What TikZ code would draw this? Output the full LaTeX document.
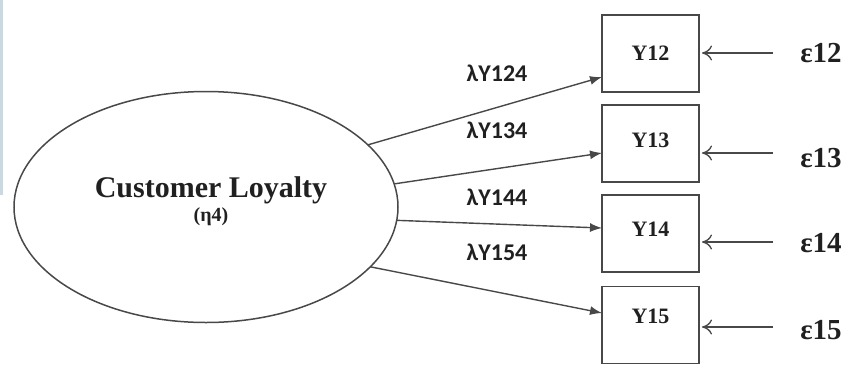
\documentclass[tikz,border=0pt]{standalone}
\usepackage{fontspec}
\setmainfont{Liberation Serif}
\newfontfamily\lamfont{Carlito}
\usetikzlibrary{shapes.geometric,arrows.meta,calc}
\definecolor{ln}{HTML}{484848}
\definecolor{txt}{HTML}{202020}
\definecolor{strip}{HTML}{C8D9E4}
\tikzset{
  latent/.style={ellipse,draw=ln,line width=1.5pt,minimum width=384pt,minimum height=231pt,inner sep=0pt,outer sep=0pt},
  obsbox/.style={rectangle,draw=ln,line width=1.8pt,minimum width=97pt,minimum height=77pt,inner sep=0pt,outer sep=0pt},
  boxlbl/.style={font=\fontsize{22}{24}\selectfont\bfseries,text=txt},
  lam/.style={font=\lamfont\fontsize{24}{26}\selectfont\bfseries,text=txt,inner sep=0pt},
  eps/.style={font=\fontsize{29}{31}\selectfont\bfseries,text=txt,inner sep=0pt},
  load/.style={draw=ln,line width=1.4pt,-{Latex[length=12pt,width=9pt]}},
  err/.style={draw=ln,line width=1.4pt,-{To[length=10pt,width=15pt,line width=1.3pt]}}
}
\begin{document}
\begin{tikzpicture}[x=1pt,y=-1pt]
\useasboundingbox (0,0) rectangle (849,365);
\fill[strip] (0,0) rectangle (2.5,195);
% latent
\node[latent] (cl) at (206,207) {};
\node[font=\fontsize{30}{32}\selectfont\bfseries,text=txt,inner sep=0pt] (clt) at (211,190) {Customer Loyalty};
\node[font=\fontsize{20}{22}\selectfont\bfseries,text=txt,inner sep=0pt] (clh) at (211,217) {(η4)};
% boxes
\node[obsbox,label={[boxlbl,yshift=0.5pt]center:Y12}] (y12) at (650.5,53.5) {};
\node[obsbox,label={[boxlbl,yshift=3.5pt]center:Y13}] (y13) at (650.5,143.5) {};
\node[obsbox,label={[boxlbl,yshift=4.5pt]center:Y14}] (y14) at (650.5,233.5) {};
\node[obsbox,label={[boxlbl,yshift=9pt]center:Y15}] (y15) at (650.5,325) {};
% loadings
\draw[load] (cl.21.4) -- ([yshift=-23.5pt]y12.west);
\draw[load] (cl.7.9) -- ([yshift=-9.5pt]y13.west);
\draw[load] (cl.-4) -- ([yshift=5.5pt]y14.west);
\draw[load] (cl.-20.2) -- ([yshift=12pt]y15.west);
\node[lam] (l1) at (497,73) {λY124};
\node[lam] (l2) at (497,130) {λY134};
\node[lam] (l3) at (497,197) {λY144};
\node[lam] (l4) at (497,252) {λY154};
% errors
\node[eps] (e12) at (821,53) {ε12};
\node[eps] (e13) at (821,158) {ε13};
\node[eps] (e14) at (821,243) {ε14};
\node[eps] (e15) at (821,330) {ε15};
\coordinate (s12) at (773,53);
\coordinate (s13) at (773,153);
\coordinate (s14) at (773,242);
\coordinate (s15) at (773,327);
\draw[err,shorten >=3pt] (s12) -- (s12 -| y12.east);
\draw[err,shorten >=3pt] (s13) -- (s13 -| y13.east);
\draw[err,shorten >=3pt] (s14) -- (s14 -| y14.east);
\draw[err,shorten >=3pt] (s15) -- (s15 -| y15.east);
\end{tikzpicture}
\end{document}
